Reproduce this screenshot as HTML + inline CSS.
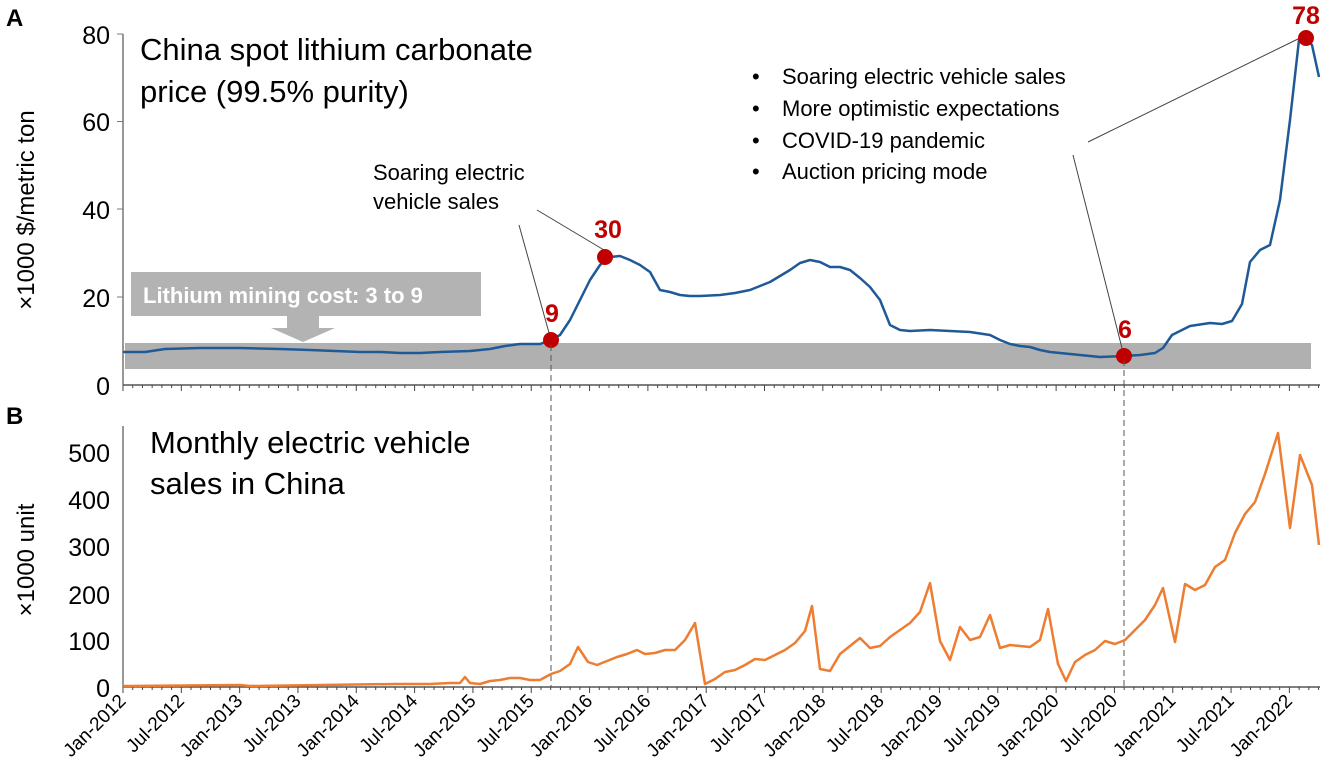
<!DOCTYPE html><html><head><style>body{margin:0;background:#fff}svg{display:block;font-family:"Liberation Sans",Arial,sans-serif}</style></head><body>
<svg width="1340" height="773" viewBox="0 0 1340 773">
<text x="6" y="26" font-size="24" font-weight="bold">A</text>
<text x="6" y="424" font-size="24" font-weight="bold">B</text>
<line x1="123" y1="34" x2="123" y2="385" stroke="#777" stroke-width="1.5"/>
<line x1="123" y1="385" x2="1320" y2="385" stroke="#555" stroke-width="1.5"/>
<g stroke="#777"><line x1="117" y1="34" x2="123" y2="34"/><line x1="117" y1="121.5" x2="123" y2="121.5"/><line x1="117" y1="209" x2="123" y2="209"/><line x1="117" y1="297" x2="123" y2="297"/></g>
<g font-size="25" text-anchor="end"><text x="110" y="44">80</text><text x="110" y="131">60</text><text x="110" y="219">40</text><text x="110" y="307">20</text><text x="110" y="395">0</text></g>
<text transform="translate(34,210) rotate(-90)" font-size="24" text-anchor="middle">×1000 $/metric ton</text>
<rect x="125" y="343" width="1186" height="26" fill="#b0b0b0"/>
<rect x="131" y="272" width="350" height="44" fill="#b3b3b3"/>
<text x="143" y="303" font-size="22" font-weight="bold" fill="#fff">Lithium mining cost: 3 to 9</text>
<polygon points="287,316 319,316 319,328 335,328 303,342 271,328 287,328" fill="#b3b3b3"/>
<text x="140" y="60" font-size="31">China spot lithium carbonate</text>
<text x="140" y="102" font-size="31">price (99.5% purity)</text>
<text x="373" y="180" font-size="22">Soaring electric</text>
<text x="373" y="209" font-size="22">vehicle sales</text>
<g font-size="22"><text x="752" y="84">•</text><text x="782" y="84">Soaring electric vehicle sales</text>
<text x="752" y="116">•</text><text x="782" y="116">More optimistic expectations</text>
<text x="752" y="148">•</text><text x="782" y="148">COVID-19 pandemic</text>
<text x="752" y="179">•</text><text x="782" y="179">Auction pricing mode</text></g>
<g stroke="#444" stroke-width="1" fill="none">
<line x1="519" y1="225" x2="551" y2="340"/><line x1="537" y1="210" x2="604" y2="250"/>
<line x1="1073" y1="155" x2="1124" y2="356"/><line x1="1088" y1="142" x2="1300" y2="38"/></g>
<polyline fill="none" stroke="#1f5a96" stroke-width="2.5" stroke-linejoin="round" points="123,352 145,352 165,349 200,348 240,348 280,349 310,350 335,351 360,352 380,352 400,353 420,353 440,352 470,351 490,349 505,346 520,344 540,344 551,340 560,335 570,320 580,300 590,280 600,265 610,257 620,256 630,260 640,265 650,272 660,290 670,292 680,295 690,296 700,296 720,295 735,293 750,290 760,286 770,282 780,276 790,270 800,263 810,260 820,262 830,267 840,267 850,270 860,278 870,287 880,300 890,325 900,330 910,331 930,330 950,331 970,332 990,335 1000,340 1010,344 1020,346 1030,347 1040,350 1050,352 1060,353 1080,355 1100,357 1124,356 1140,355 1155,353 1163,348 1172,335 1180,331 1190,326 1210,323 1222,324 1232,321 1242,304 1250,262 1260,250 1270,245 1280,200 1290,120 1299,40 1306,39 1312,45 1319,77"/>
<g fill="#c00000"><circle cx="551" cy="340" r="8"/><circle cx="605" cy="257" r="8"/><circle cx="1124" cy="356" r="8"/><circle cx="1306" cy="38" r="8"/></g>
<g fill="#c00000" font-size="25" font-weight="bold" text-anchor="middle"><text x="552" y="322">9</text><text x="608" y="238">30</text><text x="1125" y="338">6</text><text x="1306" y="24">78</text></g>
<line x1="123" y1="426" x2="123" y2="687" stroke="#777" stroke-width="1.5"/>
<line x1="123" y1="687" x2="1320" y2="687" stroke="#555" stroke-width="1.5"/>
<g font-size="25" text-anchor="end"><text x="110" y="462">500</text><text x="110" y="509">400</text><text x="110" y="556">300</text><text x="110" y="604">200</text><text x="110" y="650">100</text><text x="110" y="697">0</text></g>
<text transform="translate(34,560) rotate(-90)" font-size="24" text-anchor="middle">×1000 unit</text>
<text x="150" y="453" font-size="31">Monthly electric vehicle</text>
<text x="150" y="494" font-size="31">sales in China</text>
<g stroke="#555" stroke-dasharray="6,4"><line x1="551" y1="345" x2="551" y2="687"/><line x1="1124" y1="360" x2="1124" y2="687"/></g>
<g id="ticks" stroke="#444"></g>
<polyline fill="none" stroke="#ed7d31" stroke-width="2.5" stroke-linejoin="round" points="123,686 240,685 250,686 395,684 430,684 450,683 460,683 465,677 470,683 480,684 490,681 500,680 510,678 520,678 530,680 540,680 551,674 560,671 570,664 578,647 588,662 597,665 607,661 617,657 627,654 637,650 645,654 655,653 665,650 675,650 685,640 695,623 705,684 715,679 725,672 735,670 745,665 755,659 765,660 775,655 785,650 795,643 805,631 812,606 820,669 830,671 840,654 850,646 860,638 870,648 880,646 890,637 900,630 910,623 920,612 930,583 940,641 950,660 960,627 970,640 980,637 990,615 1000,648 1010,645 1020,646 1030,647 1040,640 1048,609 1058,664 1066,681 1075,662 1085,655 1095,650 1105,641 1115,644 1125,640 1135,630 1145,620 1155,605 1163,588 1175,642 1185,584 1195,590 1205,585 1215,567 1225,560 1235,533 1245,514 1255,502 1265,474 1278,433 1290,528 1300,455 1312,485 1319,545"/>
<g id="lbl" font-size="19"></g>
</svg>
<script>
var s="http://www.w3.org/2000/svg",t=document.getElementById("ticks"),l=document.getElementById("lbl");
var mo=["Jan","Jul"];
for(var m=0;m<=123;m++){var x=123+m*9.72;var big=m%6==0;
var L=document.createElementNS(s,"line");L.setAttribute("x1",x);L.setAttribute("x2",x);L.setAttribute("y1",687);L.setAttribute("y2",big?693:690);t.appendChild(L);
var L2=document.createElementNS(s,"line");L2.setAttribute("x1",x);L2.setAttribute("x2",x);L2.setAttribute("y1",385);L2.setAttribute("y2",big?391:388);t.appendChild(L2);
if(big&&m<=120){var T=document.createElementNS(s,"text");T.setAttribute("transform","translate("+(x+4)+",702) rotate(-45)");T.setAttribute("text-anchor","end");T.textContent=mo[(m/6)%2]+"-"+(2012+Math.floor(m/12));l.appendChild(T);}}
</script>
</body></html>
